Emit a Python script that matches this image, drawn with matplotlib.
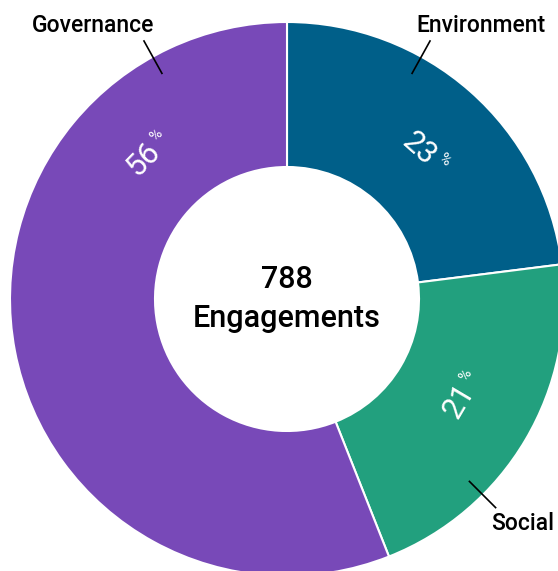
import numpy as np
import matplotlib
matplotlib.use("Agg")
import matplotlib.pyplot as plt

# data
categories = ["Environment", "Social", "Governance"]
shares = [23, 21, 56]
colors = ["#005f89", "#22a07e", "#7849b8"]
total_label = "788\nEngagements"

# leader line angle (deg) and label offset for each category name
name_angles = [61, -45, 119]
name_offsets = [(194, 273), (236, -224), (-194, 273)]
# percent labels sit at the slice middle except governance, pushed up-left
label_angle_override = {"Governance": 135.6}

TXT = ["Roboto", "DejaVu Sans"]


def main():
    W, H = 558, 571
    fig = plt.figure(figsize=(W / 100, H / 100), dpi=100)
    ax = fig.add_axes([0, 0, 1, 1])

    cx, cy = 287, H - 299
    r_out, r_in = 277, 132

    ax.pie(shares, colors=colors, startangle=90, counterclock=False,
           radius=r_out, center=(cx, cy), frame=True,
           wedgeprops=dict(width=r_out - r_in, edgecolor="white", linewidth=1.5))
    ax.set_xlim(0, W)
    ax.set_ylim(0, H)
    ax.set_aspect("equal")
    ax.axis("off")

    # centre text
    ax.text(cx, cy, total_label, ha="center", va="center", fontsize=22,
            fontweight="medium", family=TXT, linespacing=1.4)

    # percent labels
    start = 90.0
    r_lab = 200
    for cat, val in zip(categories, shares):
        span = 360.0 * val / sum(shares)
        mid = start - span / 2
        start -= span
        ang = label_angle_override.get(cat, mid)
        rot = ang - 90 if np.sin(np.radians(ang)) > 0 else ang + 90
        rot = ((rot + 90) % 180) - 90
        t = np.radians(ang)
        px, py = cx + r_lab * np.cos(t), cy + r_lab * np.sin(t)
        u = np.array([np.cos(np.radians(rot)), np.sin(np.radians(rot))])
        v = np.array([-u[1], u[0]])
        ax.text(px, py, f"{val}", rotation=rot, rotation_mode="anchor",
                ha="center", va="center", fontsize=22, color="white",
                fontweight="normal", family=TXT, zorder=5)
        q = np.array([px, py]) + 20 * u + 4 * v
        ax.text(q[0], q[1], "%", rotation=rot, rotation_mode="anchor",
                ha="left", va="baseline", fontsize=11, color="white",
                fontweight="normal", family=TXT, zorder=5)

    # category names with leader lines
    for cat, a, (ox, oy) in zip(categories, name_angles, name_offsets):
        t = np.radians(a)
        ax.plot([cx + 258 * np.cos(t), cx + 295 * np.cos(t)],
                [cy + 258 * np.sin(t), cy + 295 * np.sin(t)],
                color="black", linewidth=1.2)
        ax.text(cx + ox, cy + oy, cat, ha="center", va="center", fontsize=16.5,
                fontweight="medium", family=TXT)

    fig.savefig("out.png", dpi=100)


if __name__ == "__main__":
    main()
